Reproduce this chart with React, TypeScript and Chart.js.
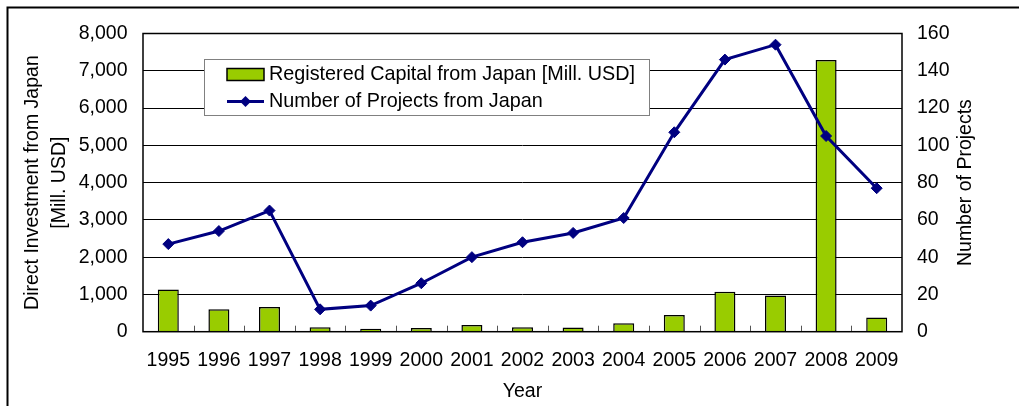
import React, { useEffect, useRef } from "react";
import { Chart, registerables } from "chart.js";

Chart.register(...registerables);

const years = ["1995", "1996", "1997", "1998", "1999", "2000", "2001", "2002", "2003", "2004", "2005", "2006", "2007", "2008", "2009"];
const capital = [1130, 600, 660, 120, 80, 100, 180, 120, 110, 230, 450, 1070, 970, 7290, 380];
const projects = [47, 54, 65, 12, 14, 26, 40, 48, 53, 61, 107, 146, 154, 105, 77];

const leftMax = 8000;
const leftStep = 1000;
const rightMax = 160;
const rightStep = 20;

const legendLabels = ["Registered Capital from Japan [Mill. USD]", "Number of Projects from Japan"];
const leftTitle = ["Direct Investment from Japan", "[Mill. USD]"];
const rightTitle = "Number of Projects";
const xTitle = "Year";

const FONT = "'Liberation Sans', Arial, sans-serif";
const GREEN = "#99CC00";
const NAVY = "#000080";
const FS = 19.5;

const decorPlugin = {
  id: "decor",
  beforeDraw(chart: any) {
    const { ctx, width, height } = chart;
    ctx.save();
    ctx.fillStyle = "#fff";
    ctx.fillRect(0, 0, width, height);
    ctx.strokeStyle = "#000";
    ctx.lineWidth = 2;
    ctx.beginPath();
    ctx.moveTo(7.5, height + 2);
    ctx.lineTo(7.5, 7.5);
    ctx.lineTo(width + 2, 7.5);
    ctx.stroke();
    ctx.restore();
  },
  afterDraw(chart: any) {
    const { ctx, chartArea: a } = chart;
    const xs = chart.scales.x;
    ctx.save();
    // x-axis inner tick marks between categories
    ctx.strokeStyle = "#555";
    ctx.lineWidth = 1;
    for (let i = 1; i < years.length; i++) {
      const x = Math.round((xs.getPixelForTick(i - 1) + xs.getPixelForTick(i)) / 2) + 0.5;
      ctx.beginPath();
      ctx.moveTo(x, a.bottom);
      ctx.lineTo(x, a.bottom - 6);
      ctx.stroke();
    }
    // plot border
    ctx.strokeStyle = "#000";
    ctx.lineWidth = 1.5;
    ctx.strokeRect(a.left, a.top, a.right - a.left, a.bottom - a.top);

    // right axis title (reads bottom to top)
    ctx.save();
    ctx.translate(966, (a.top + a.bottom) / 2);
    ctx.rotate(-Math.PI / 2);
    ctx.fillStyle = "#000";
    ctx.font = `${FS}px ${FONT}`;
    ctx.textAlign = "center";
    ctx.textBaseline = "middle";
    ctx.fillText(rightTitle, 0, 0);
    ctx.restore();

    // legend
    const lx = 204.5, ly = 59.5, lw = 445, lh = 56;
    ctx.fillStyle = "#fff";
    ctx.fillRect(lx, ly, lw, lh);
    ctx.strokeStyle = "#808080";
    ctx.lineWidth = 1;
    ctx.strokeRect(lx, ly, lw, lh);

    ctx.fillStyle = GREEN;
    ctx.fillRect(227, 68.5, 37, 12);
    ctx.strokeStyle = "#000";
    ctx.lineWidth = 1.5;
    ctx.strokeRect(227, 68.5, 37, 12);

    ctx.strokeStyle = NAVY;
    ctx.lineWidth = 3;
    ctx.beginPath();
    ctx.moveTo(227, 101.5);
    ctx.lineTo(264, 101.5);
    ctx.stroke();
    ctx.fillStyle = NAVY;
    ctx.beginPath();
    const cx = 245.5, cy = 101.5, r = 5.5;
    ctx.moveTo(cx, cy - r);
    ctx.lineTo(cx + r, cy);
    ctx.lineTo(cx, cy + r);
    ctx.lineTo(cx - r, cy);
    ctx.closePath();
    ctx.fill();

    ctx.fillStyle = "#000";
    ctx.font = `19.8px ${FONT}`;
    ctx.textBaseline = "middle";
    ctx.textAlign = "left";
    ctx.fillText(legendLabels[0], 269, 75);
    ctx.fillText(legendLabels[1], 269, 102);
    ctx.restore();
  },
};

export default function App() {
  const ref = useRef<HTMLCanvasElement>(null);
  useEffect(() => {
    document.body.style.margin = "0";
    const canvas = ref.current!;
    const tickFont = { family: FONT, size: FS, lineHeight: 1.2 };
    const chart = new Chart(canvas, {
      data: {
        labels: years,
        datasets: [
          {
            type: "line",
            label: legendLabels[1],
            data: projects,
            yAxisID: "y1",
            borderColor: NAVY,
            backgroundColor: NAVY,
            borderWidth: 3,
            pointStyle: "rectRot",
            pointRadius: 5.5,
            pointBackgroundColor: NAVY,
            pointBorderColor: NAVY,
            pointBorderWidth: 1,
            tension: 0,
            order: 0,
          },
          {
            type: "bar",
            label: legendLabels[0],
            data: capital,
            yAxisID: "y",
            backgroundColor: GREEN,
            borderColor: "#000",
            borderWidth: 1.5,
            barPercentage: 0.415,
            categoryPercentage: 1,
            order: 1,
          },
        ],
      } as any,
      options: {
        animation: false,
        responsive: false,
        maintainAspectRatio: false,
        layout: { padding: { top: 33.5, left: 0, right: 0, bottom: 0 } },
        plugins: { legend: { display: false }, tooltip: { enabled: false } },
        scales: {
          x: {
            type: "category",
            offset: true,
            grid: { display: false, drawTicks: false },
            border: { display: false },
            ticks: { color: "#000", font: tickFont, padding: 17, autoSkip: false, maxRotation: 0 },
            title: { display: true, text: xTitle, color: "#000", font: tickFont, padding: { top: 0, bottom: 3 } },
            afterFit: (s: any) => { s.height = 74.3; },
          },
          y: {
            position: "left",
            min: 0,
            max: leftMax,
            grid: { color: "#000", lineWidth: 1, drawTicks: false },
            border: { display: false },
            ticks: {
              stepSize: leftStep,
              color: "#000",
              font: tickFont,
              padding: 15.5,
              callback: (v: any) => Number(v).toLocaleString("en-US"),
            },
            title: {
              display: true,
              text: leftTitle,
              color: "#000",
              font: { family: FONT, size: FS, lineHeight: 1.34 },
              padding: { top: 20, bottom: 0 },
            },
            afterFit: (s: any) => { s.width = 143; },
          },
          y1: {
            position: "right",
            min: 0,
            max: rightMax,
            grid: { display: false, drawTicks: false },
            border: { display: false },
            ticks: { stepSize: rightStep, color: "#000", font: tickFont, padding: 15 },
            afterFit: (s: any) => { s.width = 117; },
          },
        },
      } as any,
      plugins: [decorPlugin],
    });
    return () => chart.destroy();
  }, []);
  return (
    <div style={{ width: 1019, height: 406 }}>
      <canvas ref={ref} width={1019} height={406} style={{ display: "block" }} />
    </div>
  );
}
